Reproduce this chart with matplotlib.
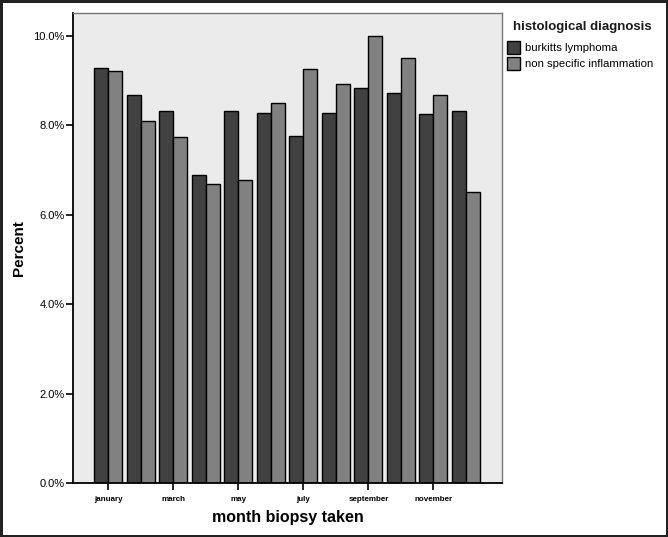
import numpy as np
import matplotlib
matplotlib.use('Agg')
import matplotlib.pyplot as plt

plt.rcParams['font.family'] = ['Liberation Sans', 'DejaVu Sans']

months = ['january', 'february', 'march', 'april', 'may', 'june',
          'july', 'august', 'september', 'october', 'november', 'december']
burkitts = [9.28, 8.68, 8.32, 6.89, 8.32, 8.28, 7.77, 8.28, 8.83, 8.72, 8.25, 8.32]
inflammation = [9.22, 8.09, 7.75, 6.68, 6.77, 8.49, 9.26, 8.93, 10.0, 9.50, 8.67, 6.52]
y_ticks = [0, 2, 4, 6, 8, 10]

W, H = 668, 537


def render_figure(filename='out.png'):
    fig = plt.figure(figsize=(W / 100, H / 100), dpi=100)
    fig.patch.set_edgecolor('#222222')
    fig.patch.set_linewidth(2.5)
    ax = fig.add_axes([73 / W, 1 - 483.3 / H, (502 - 73) / W, (483.3 - 13) / H])
    ax.set_facecolor('#ebebeb')

    x = np.arange(len(months))
    w = 0.43
    ax.bar(x - w / 2, burkitts, w, color='#414141', edgecolor='black', linewidth=1.0,
           label='burkitts lymphoma')
    ax.bar(x + w / 2, inflammation, w, color='#818181', edgecolor='black', linewidth=1.0,
           label='non specific inflammation')

    ax.set_xlim(-1.09, 12.11)
    ax.set_ylim(0, 10.51)
    ax.set_yticks(y_ticks)
    ax.set_yticklabels(['%.1f%%' % v for v in y_ticks], fontsize=8)
    ax.set_xticks(x[::2])
    ax.set_xticklabels(months[::2], fontsize=5.8, fontweight='bold')
    ax.tick_params(axis='y', length=5, width=1.2, pad=1)
    ax.tick_params(axis='x', length=5, width=1.2, pad=4)

    for side in ['left', 'bottom']:
        ax.spines[side].set_linewidth(1.3)
        ax.spines[side].set_color('black')
    for side in ['top', 'right']:
        ax.spines[side].set_linewidth(1.0)
        ax.spines[side].set_color('#777777')

    ax.set_ylabel('Percent', fontsize=11, fontweight='bold', labelpad=5)
    ax.set_xlabel('month biopsy taken', fontsize=11.5, fontweight='bold', labelpad=5)

    # legend title placed separately so the gap to the entries matches
    fig.text(513 / W, 1 - 27 / H, 'histological diagnosis', fontsize=9.5,
             fontweight='bold', color='#1a1a1a', ha='left', va='center')
    fig.legend(*ax.get_legend_handles_labels(), loc='upper left',
               bbox_to_anchor=(507 / W, 1 - 41 / H), frameon=False, fontsize=8.2,
               handlelength=1.1, handleheight=1.35, handletextpad=0.45,
               labelspacing=0.3, borderaxespad=0, borderpad=0)

    fig.savefig(filename, dpi=100)


if __name__ == '__main__':
    render_figure()
